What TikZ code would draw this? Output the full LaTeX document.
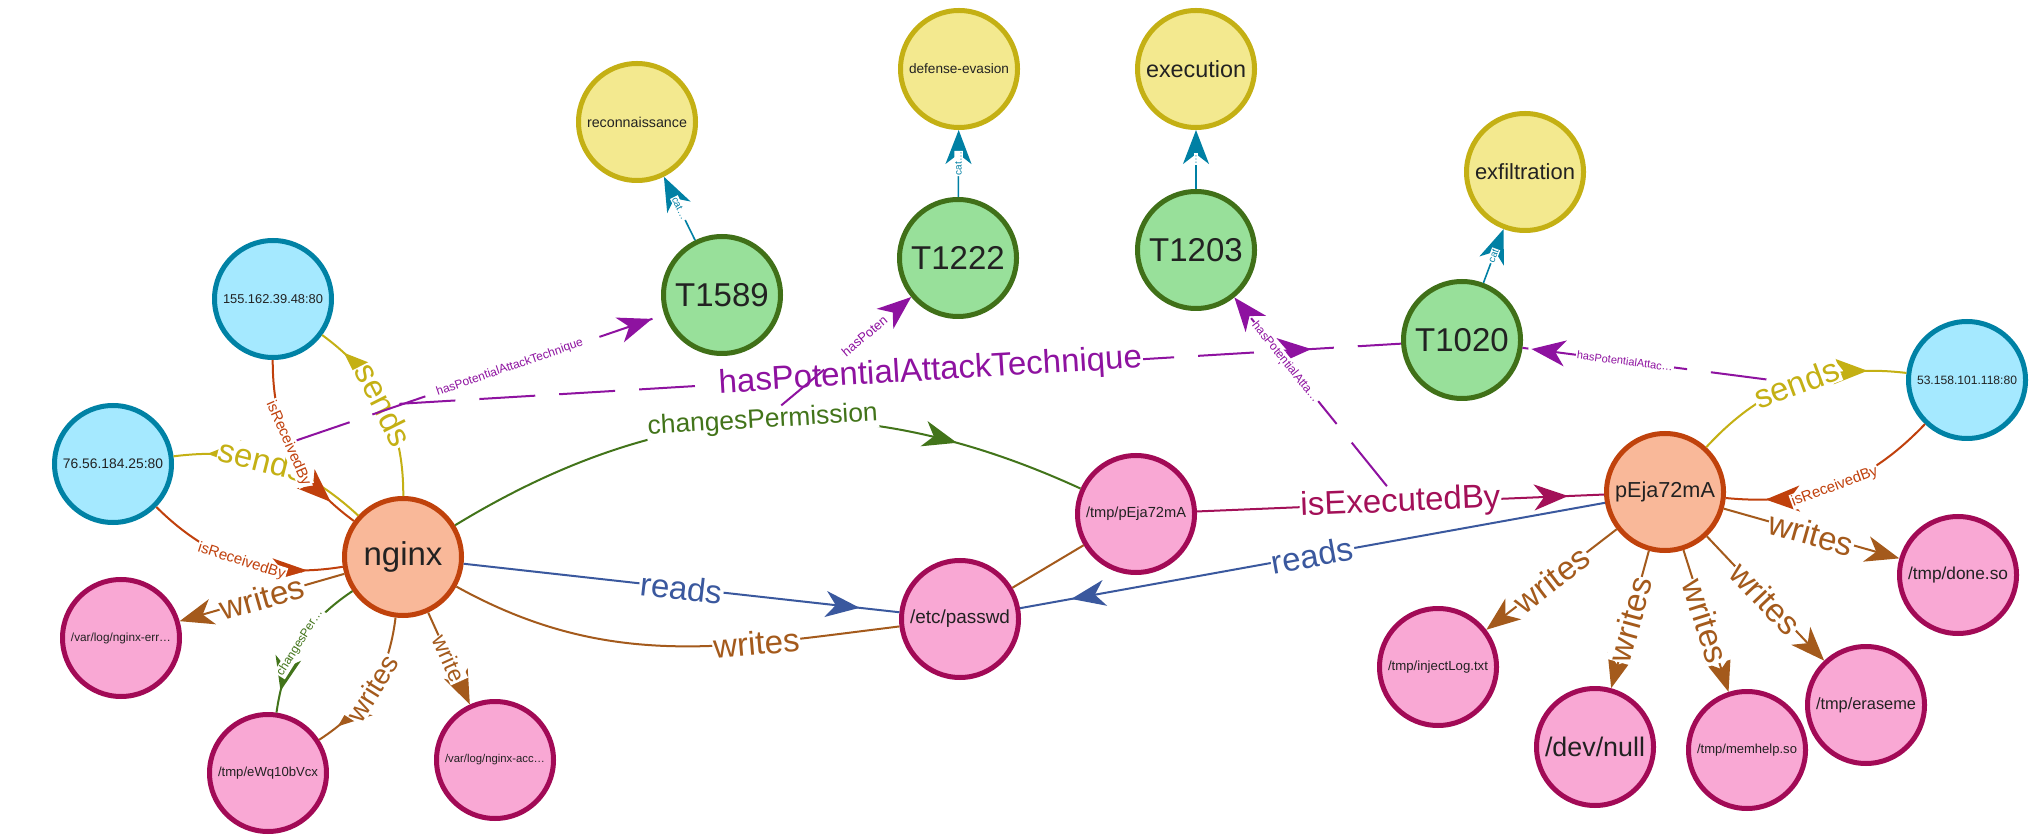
\documentclass[tikz,border=0pt]{standalone}
\usepackage{fontspec}
\setmainfont{Liberation Sans}
\usepackage{graphicx}
\usetikzlibrary{arrows.meta,decorations.markings}

\definecolor{ipfill}{RGB}{165,233,255}
\definecolor{ipline}{RGB}{0,130,165}
\definecolor{procfill}{RGB}{249,184,153}
\definecolor{procline}{RGB}{192,66,12}
\definecolor{filefill}{RGB}{249,168,212}
\definecolor{fileline}{RGB}{162,10,86}
\definecolor{techfill}{RGB}{152,224,154}
\definecolor{techline}{RGB}{64,112,24}
\definecolor{tacfill}{RGB}{243,233,143}
\definecolor{tacline}{RGB}{196,176,20}
\definecolor{ink}{RGB}{34,34,34}
\definecolor{sendcol}{RGB}{196,176,20}
\definecolor{recvcol}{RGB}{192,64,12}
\definecolor{writecol}{RGB}{164,90,28}
\definecolor{readcol}{RGB}{58,88,158}
\definecolor{permcol}{RGB}{66,116,26}
\definecolor{execcol}{RGB}{163,16,88}
\definecolor{potcol}{RGB}{142,18,160}
\definecolor{taccol}{RGB}{0,128,164}

\newcommand{\fitw}[1]{\resizebox{50pt}{!}{#1}}

\begin{document}
\begin{tikzpicture}[x=0.5pt, y=0.5pt, >={Stealth[length=17pt,width=13pt,inset=5pt]}]
  \useasboundingbox (0,0) rectangle (2039,836);
  \path[fill=white] (0,0) rectangle (2039,836);

  \tikzset{ip node/.style={circle,draw=ipline,fill=ipfill,line width=2.5pt,minimum size=58.5pt,inner sep=0pt,text=ink}}
  \tikzset{proc node/.style={circle,draw=procline,fill=procfill,line width=2.5pt,minimum size=58.5pt,inner sep=0pt,text=ink}}
  \tikzset{file node/.style={circle,draw=fileline,fill=filefill,line width=2.5pt,minimum size=58.5pt,inner sep=0pt,text=ink}}
  \tikzset{tech node/.style={circle,draw=techline,fill=techfill,line width=2.5pt,minimum size=58.5pt,inner sep=0pt,text=ink}}
  \tikzset{tactic node/.style={circle,draw=tacline,fill=tacfill,line width=2.5pt,minimum size=58.5pt,inner sep=0pt,text=ink}}
  \tikzset{big text/.style={font=\fontsize{16.5}{19}\selectfont}}
  \tikzset{edge label/.style={fill=white,sloped,midway,inner sep=0.5pt,font=\fontsize{#1}{#1}\selectfont}}
  \tikzset{mid tip/.style={postaction={decorate},decoration={markings,mark=at position -#1 with {\arrow{>}}}}}
  \tikzset{sends edge/.style={draw=sendcol,text=sendcol,line width=1pt}}
  \tikzset{recv edge/.style={draw=recvcol,text=recvcol,line width=1pt}}
  \tikzset{writes edge/.style={draw=writecol,text=writecol,line width=1pt}}
  \tikzset{reads edge/.style={draw=readcol,text=readcol,line width=1pt}}
  \tikzset{perm edge/.style={draw=permcol,text=permcol,line width=1pt}}
  \tikzset{exec edge/.style={draw=execcol,text=execcol,line width=1pt}}
  \tikzset{pot edge/.style={draw=potcol,text=potcol,line width=1pt,dash pattern=on 28pt off 12pt}}
  \tikzset{tactic edge/.style={draw=taccol,text=taccol,line width=0.8pt}}

  \path
    (273, 537) node[ip node](ip155) {\fitw{155.162.39.48:80}}
    (113, 372) node[ip node](ip76) {\fitw{76.56.184.25:80}}
    (1967, 456) node[ip node](ip53) {\fitw{53.158.101.118:80}}
    (403, 279) node[proc node, big text](nginx) {nginx}
    (1665, 344) node[proc node](pEja) {\fitw{pEja72mA}}
    (121, 198) node[file node](err) {\fitw{/var/log/nginx-err…}}
    (268, 63) node[file node](eWq) {\fitw{/tmp/eWq10bVcx}}
    (495, 76) node[file node](acc) {\fitw{/var/log/nginx-acc…}}
    (1136, 322) node[file node](tmpP) {\fitw{/tmp/pEja72mA}}
    (960, 217) node[file node](passwd) {\fitw{/etc/passwd}}
    (1958, 261) node[file node](done) {\fitw{/tmp/done.so}}
    (1438, 169) node[file node](inject) {\fitw{/tmp/injectLog.txt}}
    (1595, 89) node[file node](devnull) {\fitw{/dev/null}}
    (1747, 86) node[file node](memhelp) {\fitw{/tmp/memhelp.so}}
    (1866, 131) node[file node](eraseme) {\fitw{/tmp/eraseme}}
    (722, 541) node[tech node, big text](T1589) {T1589}
    (958, 578) node[tech node, big text](T1222) {T1222}
    (1196, 586) node[tech node, big text](T1203) {T1203}
    (1462, 496) node[tech node, big text](T1020) {T1020}
    (637, 714) node[tactic node](recon) {\fitw{reconnaissance}}
    (959, 767) node[tactic node](defev) {\fitw{defense-evasion}}
    (1196, 767) node[tactic node](exec) {\fitw{execution}}
    (1525, 664) node[tactic node](exfil) {\fitw{exfiltration}}
  ;

  % nginx side
  \draw[recv edge, mid tip=18pt] (ip76) to[bend right=27] node[edge label=7.5] {isReceivedBy} (nginx);
  \draw[sends edge, mid tip=14pt] (nginx) to[bend right=27] node[edge label=16.5] (sendA) {sends} (ip155);
  \draw[sends edge, mid tip=17pt] (nginx) to[bend right=25] node[edge label=16.5, pos=0.56] {sends} (ip76);
  \draw[recv edge, mid tip=15pt] (ip155) to[bend right=27] node[edge label=7.5, pos=0.45] (recvA) {isReceivedBy} (nginx);
  \draw[writes edge, ->] (nginx) -- (err) node[edge label=16.5] {writes};
  \draw[perm edge, mid tip=11pt] (nginx) to[bend right=24] node[edge label=6] {changesPer…} (eWq);
  \draw[writes edge, mid tip=11.5pt] (nginx) to[bend left=25] node[edge label=14] {writes} (eWq);
  \draw[writes edge, ->] (nginx) -- (acc) node[edge label=11.5] {write};
  \draw[perm edge, mid tip=66pt] (nginx) to[bend left=28] node[edge label=13.2] (chperm) {changesPermission} (tmpP);
  \draw[reads edge, mid tip=20pt] (nginx) -- (passwd) node[edge label=16.5] {reads};
  \draw[writes edge] (nginx) to[out=-29, in=187] node[edge label=16.5, pos=0.7] {writes} (passwd);

  % middle and pEja72mA side
  \draw[writes edge] (tmpP) -- (passwd);
  \draw[exec edge, mid tip=18pt] (tmpP) -- (pEja) node[edge label=16.5] (execby) {isExecutedBy};
  \draw[reads edge, mid tip=26pt] (pEja) -- (passwd) node[edge label=16.5] {reads};
  \draw[sends edge, mid tip=19.5pt] (pEja) to[bend left=27] node[edge label=16.5] (sendC) {sends} (ip53);
  \draw[recv edge, mid tip=20pt] (ip53) to[bend left=26] node[edge label=7.5] {isReceivedBy} (pEja);
  \draw[writes edge, ->] (pEja) -- (done) node[edge label=16.5] {writes};
  \draw[writes edge, ->] (pEja) -- (inject) node[edge label=16.5] {writes};
  \draw[writes edge, ->] (pEja) -- (devnull) node[edge label=16.5] {writes};
  \draw[writes edge, ->] (pEja) -- (memhelp) node[edge label=16.5] {writes};
  \draw[writes edge, ->] (pEja) -- (eraseme) node[edge label=16.5] {writes};

  % techniques to tactics
  \draw[tactic edge, ->] (T1589) -- (recon) node[edge label=5] {cat…};
  \draw[tactic edge, ->] (T1222) -- (defev) node[edge label=5] {cat…};
  \draw[tactic edge, ->] (T1203) -- (exec) node[edge label=5] {…};
  \draw[tactic edge, ->] (T1020) -- (exfil) node[edge label=5] {cat};

  % potential techniques
  \draw[pot edge, mid tip=45pt] (sendA) -- (T1020) node[edge label=16.5, pos=0.53] {hasPotentialAttackTechnique};
  \draw[pot edge, mid tip=6.5pt] (recvA) -- (T1589) node[edge label=6, pos=0.58] {hasPotentialAttackTechnique};
  \draw[pot edge, ->] (chperm) -- (T1222) node[edge label=6.5, pos=0.64] {hasPoten};
  \draw[pot edge, ->] (execby) -- (T1203) node[edge label=6, pos=0.66] {hasPotentialAtta…};
  \draw[pot edge, mid tip=4.5pt] (sendC) -- (T1020) node[edge label=5.5, pos=0.58] {hasPotentialAttac…};

\end{tikzpicture}
\end{document}
